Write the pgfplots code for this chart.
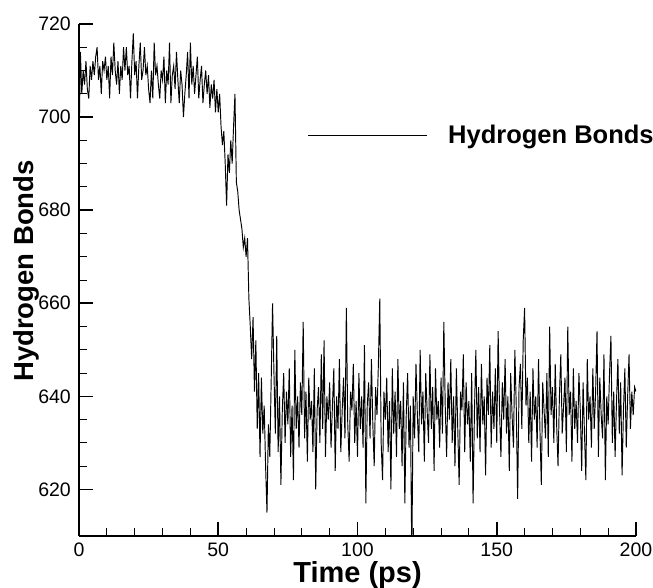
\documentclass[border=0pt]{standalone}
\usepackage{fontspec}
\setmainfont{Liberation Sans}
\usepackage{pgfplots}
\pgfplotsset{compat=1.18}
\begin{document}
\begin{tikzpicture}
\useasboundingbox (-79pt,-52pt) rectangle (574pt,536pt);
\begin{axis}[
  at={(0pt,0pt)}, anchor=south west,
  scale only axis, width=557pt, height=512pt,
  xmin=0, xmax=200, ymin=610, ymax=720,
  axis lines*=left,
  axis line style={line width=1.6pt, black},
  xtick={0,50,100,150,200}, minor x tick num=4,
  ytick={620,640,660,680,700,720}, minor y tick num=3,
  tick align=inside,
  major tick length=14pt, minor tick length=8pt,
  major tick style={line width=1.6pt, black},
  minor tick style={line width=0.9pt, black},
  /pgf/number format/assume math mode=true,
  ticklabel style={font=\fontsize{19.5}{22}\selectfont, inner sep=0pt},
  yticklabel style={xshift=-8pt},
  xticklabel style={yshift=-7pt},
  xlabel={Time (ps)},
  ylabel={Hydrogen Bonds},
  xlabel style={at={(axis description cs:0.5,-0.0488)}, anchor=north, inner sep=0pt, font=\bfseries\fontsize{29}{33}\selectfont},
  ylabel style={at={(axis description cs:-0.1185,0.5176)}, anchor=north, inner sep=0pt, font=\bfseries\fontsize{27.5}{31}\selectfont},
  legend style={at={(axis cs:81.9,696.1)}, anchor=west, draw=none, fill=none, inner sep=0pt,
    font=\bfseries\fontsize{25.5}{28}\selectfont, nodes={inner sep=0pt},
    /tikz/every odd column/.append style={column sep=21pt}},
  legend image code/.code={\draw[#1] (0pt,0pt) -- (119pt,0pt);},
]
\addplot[black, line width=0.95pt] table[row sep=\\] {
x y\\
0 693\\0.5 714\\1 705\\1.5 710\\2 707\\2.5 712\\3 706\\3.5 704\\4 711\\4.5 708\\5 712\\5.5 709\\6 713\\6.5 715\\7 708\\7.5 711\\8 705\\8.5 712\\9 710\\9.5 713\\
10 708\\10.5 711\\11 704\\11.5 713\\12 709\\12.5 716\\13 710\\13.5 707\\14 712\\14.5 705\\15 711\\15.5 708\\16 715\\16.5 710\\17 715\\17.5 709\\18 711\\18.5 704\\19 712\\19.5 718\\
20 709\\20.5 712\\21 704\\21.5 711\\22 716\\22.5 708\\23 710\\23.5 715\\24 709\\24.5 711\\25 706\\25.5 703\\26 710\\26.5 704\\27 716\\27.5 709\\28 711\\28.5 707\\29 704\\29.5 710\\
30 708\\30.5 713\\31 703\\31.5 710\\32 707\\32.5 716\\33 703\\33.5 709\\34 711\\34.5 706\\35 714\\35.5 708\\36 703\\36.5 710\\37 707\\37.5 700\\38 705\\38.5 709\\39 714\\39.5 704\\
40 716\\40.5 707\\41 711\\41.5 705\\42 709\\42.5 713\\43 704\\43.5 708\\44 711\\44.5 703\\45 707\\45.5 710\\46 705\\46.5 709\\47 702\\47.5 707\\48 704\\48.5 708\\49 701\\49.5 706\\
50 701\\50.5 705\\51 698\\51.5 694\\52 697\\52.5 690\\53 681\\53.5 692\\54 688\\54.5 695\\55 690\\55.5 698\\56 705\\56.5 686\\57 684\\57.5 680\\58 678\\58.5 676\\59 672\\59.5 674\\
60 670\\60.5 674\\61 661\\61.5 655\\62 648\\62.5 657\\63 641\\63.5 652\\64 633\\64.5 645\\65 627\\65.5 644\\66 632\\66.5 638\\67 625\\67.5 615\\68 634\\68.5 627\\69 643\\69.5 660\\
70 645\\70.5 632\\71 653\\71.5 628\\72 640\\72.5 621\\73 637\\73.5 645\\74 630\\74.5 641\\75 634\\75.5 646\\76 627\\76.5 638\\77 622\\77.5 650\\78 633\\78.5 640\\79 629\\79.5 643\\
80 636\\80.5 656\\81 631\\81.5 641\\82 626\\82.5 644\\83 635\\83.5 639\\84 628\\84.5 646\\85 620\\85.5 637\\86 642\\86.5 630\\87 649\\87.5 633\\88 652\\88.5 627\\89 640\\89.5 635\\
90 643\\90.5 629\\91 638\\91.5 646\\92 624\\92.5 640\\93 633\\93.5 648\\94 628\\94.5 637\\95 644\\95.5 631\\96 659\\96.5 634\\97 626\\97.5 641\\98 637\\98.5 647\\99 630\\99.5 639\\
100 627\\100.5 645\\101 633\\101.5 640\\102 629\\102.5 651\\103 617\\103.5 638\\104 643\\104.5 631\\105 648\\105.5 634\\106 625\\106.5 642\\107 636\\107.5 647\\108 661\\108.5 630\\109 622\\109.5 641\\
110 635\\110.5 644\\111 628\\111.5 639\\112 620\\112.5 646\\113 632\\113.5 641\\114 627\\114.5 648\\115 633\\115.5 639\\116 625\\116.5 643\\117 617\\117.5 636\\118 645\\118.5 629\\119 638\\119.5 605\\
120 640\\120.5 631\\121 647\\121.5 636\\122 628\\122.5 650\\123 634\\123.5 641\\124 626\\124.5 645\\125 637\\125.5 630\\126 649\\126.5 633\\127 642\\127.5 624\\128 646\\128.5 635\\129 639\\129.5 629\\
130 644\\130.5 632\\131 656\\131.5 638\\132 627\\132.5 643\\133 635\\133.5 648\\134 630\\134.5 640\\135 625\\135.5 646\\136 633\\136.5 621\\137 641\\137.5 637\\138 649\\138.5 628\\139 643\\139.5 634\\
140 639\\140.5 626\\141 645\\141.5 617\\142 637\\142.5 650\\143 631\\143.5 642\\144 628\\144.5 647\\145 634\\145.5 640\\146 623\\146.5 644\\147 636\\147.5 651\\148 629\\148.5 641\\149 633\\149.5 646\\
150 630\\150.5 654\\151 637\\151.5 627\\152 643\\152.5 635\\153 648\\153.5 632\\154 640\\154.5 624\\155 645\\155.5 636\\156 629\\156.5 650\\157 638\\157.5 618\\158 642\\158.5 647\\159 633\\159.5 652\\
160 659\\160.5 638\\161 644\\161.5 630\\162 641\\162.5 626\\163 646\\163.5 635\\164 640\\164.5 629\\165 648\\165.5 633\\166 621\\166.5 643\\167 637\\167.5 631\\168 645\\168.5 627\\169 655\\169.5 636\\
170 642\\170.5 630\\171 647\\171.5 634\\172 625\\172.5 640\\173 649\\173.5 632\\174 638\\174.5 644\\175 628\\175.5 655\\176 636\\176.5 641\\177 626\\177.5 646\\178 633\\178.5 639\\179 630\\179.5 645\\
180 637\\180.5 624\\181 643\\181.5 632\\182 622\\182.5 648\\183 635\\183.5 640\\184 629\\184.5 646\\185 633\\185.5 641\\186 654\\186.5 627\\187 644\\187.5 636\\188 631\\188.5 649\\189 622\\189.5 640\\
190 634\\190.5 645\\191 653\\191.5 630\\192 641\\192.5 627\\193 639\\193.5 648\\194 632\\194.5 643\\195 623\\195.5 637\\196 646\\196.5 629\\197 640\\197.5 649\\198 633\\198.5 641\\199 636\\199.5 642\\
200 641\\
};
\addlegendentry{Hydrogen Bonds}
\end{axis}
\end{tikzpicture}
\end{document}
